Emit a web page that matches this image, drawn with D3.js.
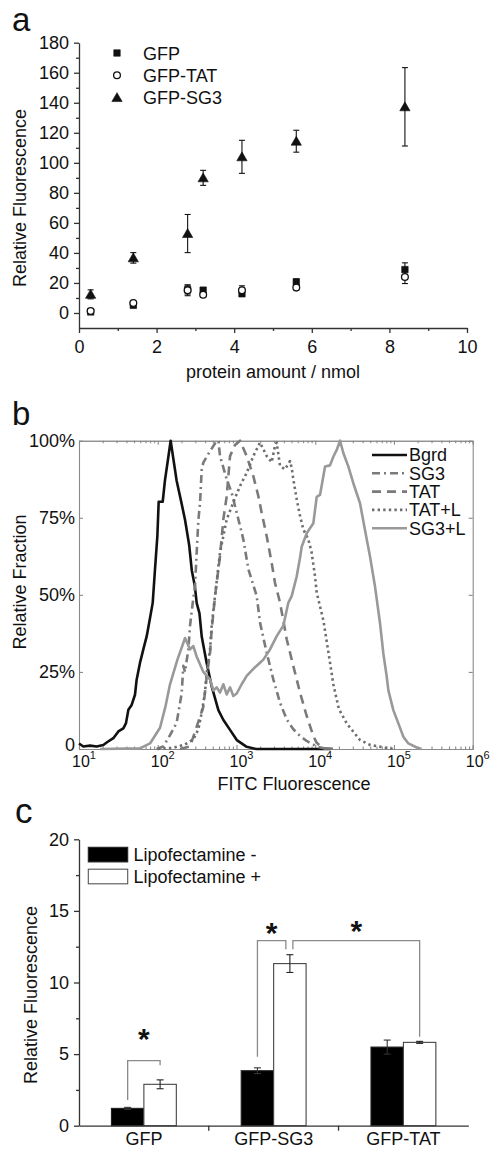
<!DOCTYPE html>
<html><head><meta charset="utf-8">
<script src="https://cdn.jsdelivr.net/npm/d3@7"></script>
<style>
body{margin:0;background:#fff}
svg{display:block}
text{font-family:"Liberation Sans",Arial,Helvetica,sans-serif;fill:#111}
</style>
</head><body>
<svg id="fig" width="494" height="1150"></svg>
<script>
// ---------------- DATA ----------------
// Panel a
const doseNmol = [0.3, 1.4, 2.8, 3.2, 4.2, 5.6, 8.4];
const gfpMean  = [0.7, 5.1, 15.6, 15.1, 12.9, 20.7, 28.9];
const gfpErr   = [0.5, 1.0, 3.0, 2.0, 2.0, 2.0, 4.5];
const tatMean  = [1.3, 6.7, 15.1, 12.2, 15.1, 16.9, 24.0];
const tatErr   = [0.5, 1.0, 3.6, 1.5, 3.0, 1.5, 4.4];
const sg3Mean  = [12.4, 36.7, 52.9, 90.0, 104.0, 114.4, 137.3];
const sg3Err   = [3.0, 3.5, 12.7, 5.0, 11.0, 7.3, 26.1];
const aSeriesNames = ["GFP", "GFP-TAT", "GFP-SG3"];
const aYTicks = [0, 20, 40, 60, 80, 100, 120, 140, 160, 180];
const aYMinor = [10, 30, 50, 70, 90, 110, 130, 150, 170];
const aXTicks = [0, 2, 4, 6, 8, 10];
const aXMinor = [1, 3, 5, 7, 9];

// Panel b: [log10 FITC fluorescence, relative fraction]
const bgrdCurve = [[1.0,0.018],[1.055,0.008],[1.14,0.011],[1.224,0.008],[1.309,0.013],[1.351,0.021],[1.436,0.035],[1.5,0.057],[1.563,0.067],[1.597,0.084],[1.627,0.127],[1.669,0.143],[1.711,0.176],[1.732,0.225],[1.775,0.28],[1.817,0.323],[1.86,0.366],[1.902,0.425],[1.936,0.474],[1.965,0.582],[1.995,0.69],[2.012,0.802],[2.063,0.802],[2.092,0.872],[2.135,0.948],[2.164,1.0],[2.24,0.87],[2.30,0.80],[2.347,0.743],[2.40,0.66],[2.432,0.58],[2.47,0.53],[2.495,0.473],[2.53,0.44],[2.559,0.364],[2.622,0.278],[2.686,0.202],[2.77,0.126],[2.834,0.094],[2.918,0.062],[3.004,0.029],[3.13,0.007],[3.25,0.0],[4.2,0.0]];
const sg3Curve = [[1.986,0.0],[2.07,0.008],[2.156,0.045],[2.24,0.085],[2.304,0.18],[2.325,0.27],[2.346,0.25],[2.389,0.323],[2.41,0.40],[2.452,0.49],[2.473,0.526],[2.494,0.635],[2.516,0.743],[2.537,0.797],[2.558,0.905],[2.579,0.929],[2.664,0.966],[2.727,0.991],[2.77,1.0],[2.791,0.95],[2.876,0.875],[2.939,0.831],[3.024,0.745],[3.087,0.68],[3.151,0.583],[3.257,0.496],[3.299,0.41],[3.384,0.312],[3.468,0.226],[3.553,0.15],[3.638,0.096],[3.722,0.064],[3.807,0.042],[3.892,0.026],[4.019,0.008],[4.15,0.0]];
const tatCurve = [[2.283,0.0],[2.41,0.008],[2.579,0.137],[2.622,0.235],[2.664,0.31],[2.685,0.386],[2.727,0.494],[2.791,0.626],[2.833,0.745],[2.876,0.82],[2.918,0.95],[2.981,0.986],[3.045,1.0],[3.13,0.95],[3.214,0.885],[3.278,0.82],[3.32,0.766],[3.384,0.69],[3.447,0.604],[3.489,0.539],[3.553,0.475],[3.638,0.356],[3.722,0.269],[3.807,0.183],[3.892,0.107],[3.976,0.042],[4.019,0.02],[4.1,0.002],[4.3,0.0]];
const tatLCurve = [[2.0,0.0],[2.198,0.004],[2.346,0.015],[2.452,0.031],[2.516,0.064],[2.558,0.118],[2.60,0.183],[2.622,0.248],[2.664,0.323],[2.685,0.40],[2.727,0.496],[2.791,0.637],[2.876,0.745],[2.96,0.80],[3.045,0.853],[3.13,0.896],[3.214,0.95],[3.278,0.983],[3.299,0.994],[3.384,0.95],[3.447,0.93],[3.489,0.984],[3.511,0.994],[3.553,0.918],[3.616,0.907],[3.68,0.934],[3.701,0.912],[3.722,0.875],[3.765,0.81],[3.807,0.756],[3.849,0.712],[3.913,0.68],[3.955,0.637],[3.997,0.561],[4.019,0.507],[4.103,0.418],[4.17,0.31],[4.23,0.21],[4.30,0.13],[4.40,0.083],[4.569,0.029],[4.70,0.013],[4.87,0.005],[5.0,0.0]];
const sg3LCurve = [[1.267,0.0],[1.775,0.002],[1.902,0.018],[2.029,0.069],[2.10,0.14],[2.156,0.21],[2.25,0.29],[2.347,0.36],[2.41,0.323],[2.452,0.334],[2.494,0.3],[2.579,0.25],[2.664,0.226],[2.706,0.19],[2.749,0.2],[2.791,0.183],[2.833,0.21],[2.876,0.177],[2.918,0.2],[2.96,0.172],[3.003,0.18],[3.066,0.21],[3.13,0.237],[3.214,0.26],[3.299,0.28],[3.341,0.29],[3.426,0.323],[3.511,0.366],[3.595,0.40],[3.659,0.475],[3.701,0.496],[3.765,0.56],[3.807,0.62],[3.828,0.656],[3.892,0.70],[3.976,0.732],[4.019,0.818],[4.061,0.824],[4.125,0.916],[4.188,0.92],[4.23,0.948],[4.273,0.97],[4.315,1.0],[4.357,0.96],[4.421,0.916],[4.484,0.862],[4.569,0.797],[4.632,0.71],[4.696,0.624],[4.76,0.526],[4.823,0.408],[4.865,0.31],[4.908,0.235],[4.929,0.19],[4.992,0.126],[5.056,0.083],[5.119,0.04],[5.183,0.018],[5.289,0.005],[5.35,0.0]];
const bSeriesNames = ["Bgrd", "SG3", "TAT", "TAT+L", "SG3+L"];
const bYTicks = [0, 0.25, 0.5, 0.75, 1.0];
const bXExponents = [1, 2, 3, 4, 5, 6];

// Panel c
const cCategories = ["GFP", "GFP-SG3", "GFP-TAT"];
const cGroups = ["Lipofectamine -", "Lipofectamine +"];
const lipoMinus = [1.21, 3.84, 5.49];
const lipoMinusErr = [0.07, 0.2, 0.49];
const lipoPlus = [2.89, 11.32, 5.82];
const lipoPlusErr = [0.31, 0.62, 0.07];
const cYTicks = [0, 5, 10, 15, 20];
const cYMinor = [2.5, 7.5, 12.5, 17.5];
// significance brackets: [category, group index, leg bottom value], top value, star value
const sigBrackets = [
  {a:["GFP",0,1.8], b:["GFP",1,4.22], top:4.54, star:6.56, shiftA:0, shiftB:0},
  {a:["GFP-SG3",0,4.82], b:["GFP-SG3",1,12.32], top:12.92, star:13.97, shiftA:0, shiftB:-4},
  {a:["GFP-SG3",1,12.32], b:["GFP-TAT",1,6.21], top:12.92, star:14.09, shiftA:3, shiftB:0}
];

// ---------------- DRAW ----------------
const svg = d3.select("#fig");
const FS = 18;

// ===== Panel a =====
(function(){
  const g = svg.append("g");
  const x = d3.scaleLinear().domain([0, 10]).range([79, 467]);
  const y = d3.scaleLinear().domain([-10, 180]).range([328, 42.7]);
  const axCol = "#333";

  g.append("g").attr("transform","translate(79,0)")
    .call(d3.axisLeft(y).tickValues(aYTicks).tickSize(5).tickSizeOuter(0).tickPadding(5));
  g.append("g").attr("transform","translate(79,0)")
    .call(d3.axisLeft(y).tickValues(aYMinor).tickSize(3).tickFormat("")).select(".domain").remove();
  g.append("g").attr("transform","translate(0,328)")
    .call(d3.axisBottom(x).tickValues(aXTicks).tickSize(5).tickSizeOuter(0).tickPadding(7));
  g.append("g").attr("transform","translate(0,328)")
    .call(d3.axisBottom(x).tickValues(aXMinor).tickSize(3).tickFormat("")).select(".domain").remove();
  g.selectAll(".domain, .tick line").attr("stroke", axCol).attr("stroke-width", 1.3);
  g.selectAll(".tick text").attr("font-size", FS).attr("font-family", '"Liberation Sans",Arial,sans-serif').attr("fill","#222");

  g.append("text").attr("transform","translate(26,198) rotate(-90)").attr("text-anchor","middle")
    .attr("font-size", FS).text("Relative Fluorescence");
  g.append("text").attr("x",273).attr("y",378).attr("text-anchor","middle")
    .attr("font-size", FS).text("protein amount / nmol");
  g.append("text").attr("x",12).attr("y",31).attr("font-size",33).text("a");

  const series = [
    {name:aSeriesNames[0], mean:gfpMean, err:gfpErr, sym:d3.symbolSquare, size:42, fill:"#111"},
    {name:aSeriesNames[1], mean:tatMean, err:tatErr, sym:d3.symbolCircle, size:36, fill:"#fff"},
    {name:aSeriesNames[2], mean:sg3Mean, err:sg3Err, sym:d3.symbolTriangle, size:46, fill:"#111"}
  ];
  series.forEach(s => {
    const pts = doseNmol.map((d,i)=>({x:d, m:s.mean[i], e:s.err[i]}));
    const eg = g.append("g").attr("stroke","#111").attr("stroke-width",1.1);
    pts.forEach(p => {
      eg.append("line").attr("x1",x(p.x)).attr("x2",x(p.x)).attr("y1",y(p.m-p.e)).attr("y2",y(p.m+p.e));
      [p.m-p.e, p.m+p.e].forEach(v => eg.append("line").attr("x1",x(p.x)-3).attr("x2",x(p.x)+3).attr("y1",y(v)).attr("y2",y(v)));
    });
  });
  series.forEach(s => {
    g.append("g").selectAll("path").data(doseNmol.map((d,i)=>[d,s.mean[i]])).join("path")
      .attr("transform", d=>`translate(${x(d[0])},${y(d[1]) + (s.sym===d3.symbolTriangle?1:0)})`)
      .attr("d", d3.symbol(s.sym, s.size))
      .attr("fill", s.fill).attr("stroke","#111").attr("stroke-width", s.fill==="#fff"?1.3:0.6);
  });
  // legend
  series.forEach((s,i) => {
    const ly = 53 + i*22.3;
    g.append("path").attr("transform",`translate(117,${ly + (s.sym===d3.symbolTriangle?1:0)})`)
      .attr("d", d3.symbol(s.sym, s.size)).attr("fill", s.fill).attr("stroke","#111").attr("stroke-width", s.fill==="#fff"?1.3:0.6);
    g.append("text").attr("x",143).attr("y",ly+6.5).attr("font-size",FS).text(s.name);
  });
})();

// ===== Panel b =====
(function(){
  const g = svg.append("g");
  const L=79, R=472.7, T=440.7, B=749;
  const x = d3.scaleLog().domain([10, 1e6]).range([L, R]);
  const y = d3.scaleLinear().domain([0, 1]).range([B, T]);
  const frame = "#8a8a8a";
  const minor = [];
  for (let e=1; e<6; e++) for (let k=2; k<10; k++) minor.push(k*Math.pow(10,e));
  const major = bXExponents.map(e => Math.pow(10,e));

  g.append("g").attr("transform",`translate(0,${B})`).call(d3.axisBottom(x).tickValues(major).tickSize(-4).tickSizeOuter(0).tickFormat(""));
  g.append("g").attr("transform",`translate(0,${T})`).call(d3.axisTop(x).tickValues(major).tickSize(-4).tickSizeOuter(0).tickFormat(""));
  g.append("g").attr("transform",`translate(0,${B})`).call(d3.axisBottom(x).tickValues(minor).tickSize(-2.5).tickFormat(""));
  g.append("g").attr("transform",`translate(0,${T})`).call(d3.axisTop(x).tickValues(minor).tickSize(-2.5).tickFormat(""));
  g.append("g").attr("transform",`translate(${L},0)`).call(d3.axisLeft(y).tickValues(bYTicks).tickSize(-4).tickSizeOuter(0).tickPadding(4)
      .tickFormat(d => d===0 ? "0" : d3.format(".0%")(d)));
  g.append("g").attr("transform",`translate(${R},0)`).call(d3.axisRight(y).tickValues(bYTicks).tickSize(-4).tickSizeOuter(0).tickFormat(""));
  g.selectAll(".domain, .tick line").attr("stroke", frame).attr("stroke-width", 1.1);
  g.selectAll(".tick text").attr("font-size", FS).attr("font-family", '"Liberation Sans",Arial,sans-serif').attr("fill","#222");
  // lift the "0" label slightly so it does not touch the 10^1 label
  g.selectAll(".tick text").filter(d => d === 0).attr("dy", "0.1em");

  bXExponents.forEach(e => {
    const t = g.append("text").attr("x", x(Math.pow(10,e))+5).attr("y", 767).attr("text-anchor","middle").attr("font-size",16);
    t.append("tspan").text("10");
    t.append("tspan").attr("font-size",11).attr("dy",-8).text(String(e));
  });

  g.append("text").attr("transform","translate(26,582) rotate(-90)").attr("text-anchor","middle")
    .attr("font-size", FS).text("Relative Fraction");
  g.append("text").attr("x",294).attr("y",790).attr("text-anchor","middle")
    .attr("font-size", FS).text("FITC Fluorescence");
  g.append("text").attr("x",12).attr("y",425).attr("font-size",33).text("b");

  const styles = [
    {data:bgrdCurve, color:"#111", dash:null, w:2.6},
    {data:sg3Curve, color:"#7a7a7a", dash:"8,4,2,4", w:2.6},
    {data:tatCurve, color:"#7a7a7a", dash:"9,6", w:2.6},
    {data:tatLCurve, color:"#6e6e6e", dash:"2.4,3.2", w:2.6},
    {data:sg3LCurve, color:"#999", dash:null, w:2.6}
  ];
  const line = d3.line().x(d => x(Math.pow(10,d[0]))).y(d => y(d[1]));
  styles.forEach(s => {
    g.append("path").datum(s.data).attr("d", line).attr("fill","none")
      .attr("stroke", s.color).attr("stroke-width", s.w).attr("stroke-dasharray", s.dash)
      .attr("stroke-linejoin","round");
  });
  styles.forEach((s,i) => {
    const ly = 455 + i*18.3;
    g.append("line").attr("x1",372).attr("x2",407).attr("y1",ly).attr("y2",ly)
      .attr("stroke", s.color).attr("stroke-width", s.w).attr("stroke-dasharray", s.dash);
    g.append("text").attr("x",409).attr("y",ly+6.3).attr("font-size",18).text(bSeriesNames[i]);
  });
})();

// ===== Panel c =====
(function(){
  const g = svg.append("g");
  const x = d3.scaleBand().domain(cCategories).range([79, 468.3]).padding(0);
  const xs = d3.scaleBand().domain([0,1]).range([0, x.bandwidth()]).paddingOuter(1).paddingInner(0);
  const y = d3.scaleLinear().domain([0, 20]).range([1125.7, 839.3]);
  const axCol = "#333";

  const vals = [lipoMinus, lipoPlus], errs = [lipoMinusErr, lipoPlusErr];
  [0,1].forEach(gi => {
    cCategories.forEach((c,i) => {
      const bx = x(c) + xs(gi), v = vals[gi][i], e = errs[gi][i];
      g.append("rect").attr("x",bx).attr("y",y(v)).attr("width",xs.bandwidth()).attr("height",y(0)-y(v))
        .attr("fill", gi===0 ? "#000" : "#fff").attr("stroke", gi===0 ? "#222" : "#444").attr("stroke-width",1.1);
      const cx = bx + xs.bandwidth()/2;
      const eg = g.append("g").attr("stroke", gi===0 ? "#333" : "#222").attr("stroke-width",1.1);
      eg.append("line").attr("x1",cx).attr("x2",cx).attr("y1",y(v-e)).attr("y2",y(v+e));
      [v-e, v+e].forEach(w => eg.append("line").attr("x1",cx-3.5).attr("x2",cx+3.5).attr("y1",y(w)).attr("y2",y(w)));
    });
  });

  g.append("g").attr("transform","translate(79,0)")
    .call(d3.axisLeft(y).tickValues(cYTicks).tickSize(5).tickSizeOuter(0).tickPadding(5));
  g.append("g").attr("transform","translate(79,0)")
    .call(d3.axisLeft(y).tickValues(cYMinor).tickSize(3).tickFormat("")).select(".domain").remove();
  g.append("g").attr("transform","translate(0,1125.7)")
    .call(d3.axisBottom(x).tickSize(0).tickSizeOuter(0).tickPadding(7));
  const bounds = cCategories.slice(1).map(c => x(c));
  g.append("g").selectAll("line").data(bounds).join("line")
    .attr("x1",d=>d).attr("x2",d=>d).attr("y1",1125.7).attr("y2",1130.7).attr("class","bt");
  g.selectAll(".domain, .tick line, .bt").attr("stroke", axCol).attr("stroke-width", 1.3);
  g.selectAll(".tick text").attr("font-size", FS).attr("font-family", '"Liberation Sans",Arial,sans-serif').attr("fill","#222");

  const bc = "#8a8a8a";
  sigBrackets.forEach(b => {
    const xa_ = x(b.a[0]) + xs(b.a[1]) + xs.bandwidth()/2 + b.shiftA;
    const xb_ = x(b.b[0]) + xs(b.b[1]) + xs.bandwidth()/2 + b.shiftB;
    g.append("path").attr("d", `M${xa_},${y(b.a[2])}V${y(b.top)}H${xb_}V${y(b.b[2])}`)
      .attr("fill","none").attr("stroke",bc).attr("stroke-width",1.3);
    g.append("text").attr("x",(xa_+xb_)/2).attr("y",y(b.star)+17).attr("text-anchor","middle")
      .attr("font-size",30).attr("font-weight","bold").text("*");
  });

  const lg = [{fill:"#000", stroke:"#222"}, {fill:"#fff", stroke:"#555"}];
  lg.forEach((s,i) => {
    const top = 847.3 + i*21.9;
    g.append("rect").attr("x",88.3).attr("y",top).attr("width",39.4).attr("height",14.6)
      .attr("fill",s.fill).attr("stroke",s.stroke).attr("stroke-width",1.1);
    g.append("text").attr("x",133.5).attr("y",top+13.6).attr("font-size",FS).text(cGroups[i]);
  });

  g.append("text").attr("transform","translate(37,995) rotate(-90)").attr("text-anchor","middle")
    .attr("font-size", FS).text("Relative Fluorescence");
  g.append("text").attr("x",15).attr("y",823).attr("font-size",35).text("c");
})();
</script>
</body></html>
